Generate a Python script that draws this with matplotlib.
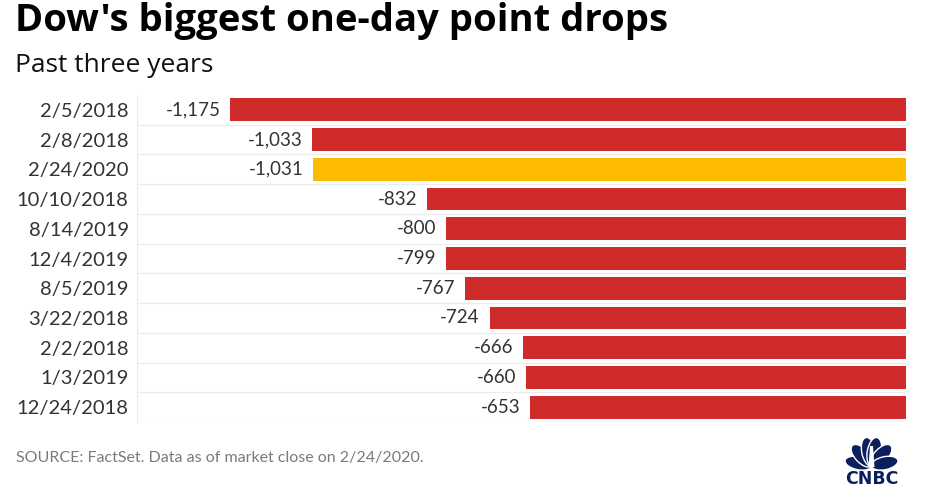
import math
import matplotlib.pyplot as plt
from matplotlib.patches import Ellipse, Polygon

plt.rcParams['font.family'] = ['Lato', 'DejaVu Sans']

# data
dates = ['2/5/2018', '2/8/2018', '2/24/2020', '10/10/2018', '8/14/2019', '12/4/2019',
         '8/5/2019', '3/22/2018', '2/2/2018', '1/3/2019', '12/24/2018']
drops = [-1175, -1033, -1031, -832, -800, -799, -767, -724, -666, -660, -653]
highlight = '2/24/2020'

red = '#cf2b2b'
yellow = '#fdbb00'
navy = '#0b1f5e'

fig = plt.figure(figsize=(9.31, 4.94), dpi=100)
ax = fig.add_axes([137 / 931, 1 - 422 / 494, (906 - 137) / 931, (422 - 95) / 494])

ypos = list(range(len(dates)))
colors = [yellow if d == highlight else red for d in dates]
ax.barh(ypos, drops, height=0.77, color=colors, zorder=3)

ax.set_xlim(-1337, 0)
ax.set_ylim(len(dates) - 0.5, -0.5)

# lignes entre les rangées
for i in range(len(dates)):
    ax.axhline(i + 0.5, color='#ececec', lw=1, zorder=1)

for i, v in enumerate(drops):
    ax.annotate(f'{v:,}', (v, i), xytext=(-7, 0), textcoords='offset points',
                ha='right', va='center', fontsize=13.5, color='#333333')

ax.set_yticks(ypos)
ax.set_yticklabels(dates, fontsize=14.5, color='#333333')
ax.tick_params(axis='y', length=0, pad=6)
ax.set_xticks([])
for s in ['top', 'right', 'bottom']:
    ax.spines[s].set_visible(False)
ax.spines['left'].set_color('#ececec')

fig.text(15 / 931, 1 - 21 / 494, "Dow's biggest one-day point drops", fontsize=27.5,
         fontweight='bold', color='black', va='center', family=['Open Sans', 'DejaVu Sans'])
fig.text(15 / 931, 1 - 66 / 494, 'Past three years', fontsize=19, color='#111111',
         va='center', family=['Open Sans', 'DejaVu Sans'])
fig.text(16 / 931, 1 - 458 / 494, 'SOURCE: FactSet. Data as of market close on 2/24/2020.',
         fontsize=11.5, color='#7a7a7a', va='center')

# logo CNBC (paon), coordonnées en pixels
lax = fig.add_axes([836 / 931, 1 - 488 / 494, 72 / 931, 54 / 494])
lax.set_xlim(836, 908)
lax.set_ylim(488, 434)
lax.axis('off')
bx, by = 871.5, 466
feathers = [(168, 27, 13), (133, 28, 14), (101, 29, 14), (79, 29, 14), (47, 28, 14), (12, 27, 13)]
for a, length, w in feathers:
    d = length / 2
    cx = bx + d * math.cos(math.radians(a))
    cy = by - d * math.sin(math.radians(a))
    lax.add_patch(Ellipse((cx, cy), length, w, angle=-a, fc=navy, ec='white', lw=1.0))
lax.add_patch(Polygon([[bx - 3, by + 1], [bx + 3, by + 1], [bx + 1.5, 446], [bx - 1.5, 446]],
                      fc='white', ec='none'))
lax.text(871.5, 478.5, 'CNBC', ha='center', va='center', fontsize=12.5, fontweight='heavy',
         color=navy, family=['DejaVu Sans'])

fig.savefig('out.png', dpi=100)
